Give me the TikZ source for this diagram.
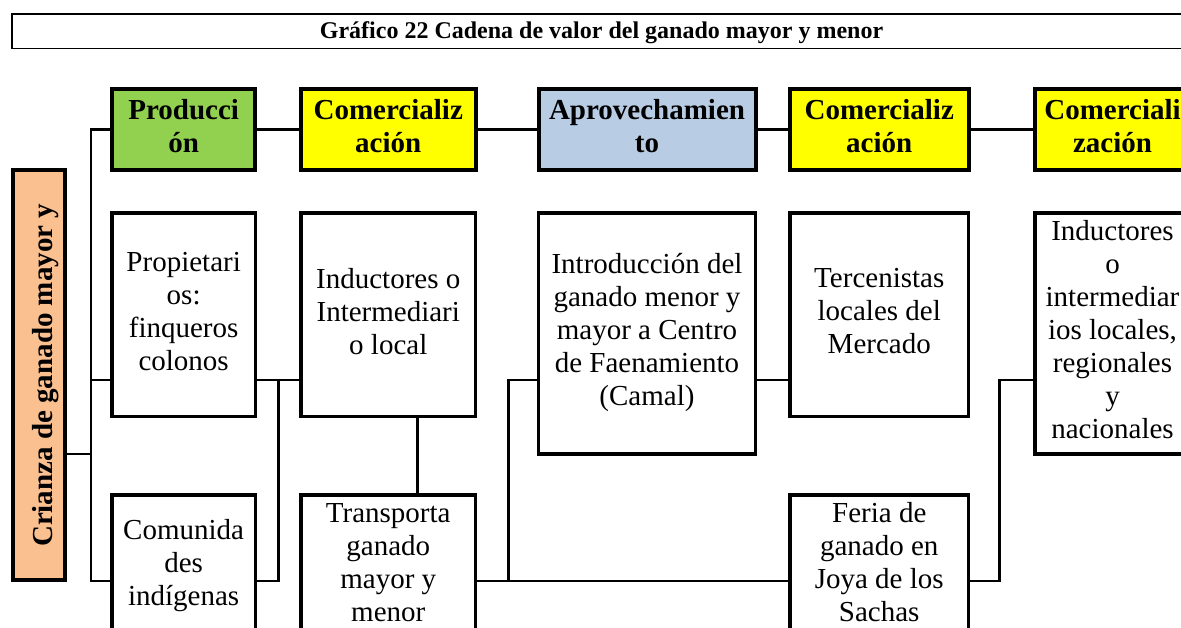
\documentclass[tikz,border=0pt]{standalone}
\usepackage{fontspec}
\setmainfont{Liberation Serif}
\definecolor{grn}{HTML}{92D050}
\definecolor{yel}{HTML}{FFFF00}
\definecolor{blu}{HTML}{B8CCE4}
\definecolor{ora}{HTML}{FAC090}
\newcommand\topstrut{\rule{0pt}{35.5pt}}
\newcommand\botstrut{\rule[-7.5pt]{0pt}{0pt}}
\begin{document}
\begin{tikzpicture}[x=1pt,y=-1pt,
  base/.style={draw=black, rectangle, inner sep=0pt, align=center,
    font=\fontsize{29}{33}\selectfont,
    execute at begin node=\topstrut, execute at end node=\botstrut},
  hdr/.style={base, line width=4pt, font=\fontsize{29}{33}\selectfont\bfseries,
    minimum height=81pt},
  bodybox/.style={base, line width=3.3pt, fill=white},
  rowa/.style={bodybox, minimum height=203.7pt},
  rowt/.style={bodybox, minimum height=241pt},
  rowb/.style={bodybox, minimum height=142pt},
  colA/.style={minimum width=143.3pt},
  colB/.style={minimum width=174.5pt},
  colC/.style={minimum width=217pt},
  colD/.style={minimum width=178.5pt},
  colE/.style={minimum width=155pt},
  conn/.style={line width=2.7pt},
]
\useasboundingbox (0,0) rectangle (1181,628);
\fill[white] (0,0) rectangle (1181,628);
\clip (0,0) rectangle (1181,628);

% title
\node[draw=black, line width=1.8pt, rectangle, inner sep=0pt,
  minimum width=1188pt, minimum height=34.5pt] (titlebox) at (606,31.25) {};
\node[anchor=base, inner sep=0pt, font=\fontsize{24}{28}\selectfont\bfseries]
  (titletext) at (601.5,38.3) {Gráfico 22 Cadena de valor del ganado mayor y menor};

% left vertical box
\node[base, line width=4pt, fill=ora, rotate=90, minimum width=410pt,
  minimum height=51.7pt, font=\fontsize{29}{33}\selectfont\bfseries,
  execute at begin node={}, execute at end node={}]
  (crianza) at (38.85,375.3) {\rule[-7.5pt]{0pt}{33pt}Crianza de ganado mayor y};

% header row
\node[hdr, colA, fill=grn] (p1) at (183.65,129.3) {Producci\\ón};
\node[hdr, colB, fill=yel] (c1) at (388.25,129.3) {Comercializ\\ación};
\node[hdr, colC, fill=blu] (ap) at (647,129.3) {Aprovechamien\\to};
\node[hdr, colD, fill=yel] (c2) at (879.25,129.3) {Comercializ\\ación};
\node[hdr, colE, fill=yel] (c3) at (1112.5,129.3) {Comerciali\\zación};

% body row 1
\node[rowa, colA] (prop) at (183.65,314.85) {Propietari\\os:\\finqueros\\colonos};
\node[rowa, colB] (ind) at (388.25,314.85) {Inductores o\\Intermediari\\o local};
\node[rowt, colC] (intro) at (647,333.5) {Introducción del\\ganado menor y\\mayor a Centro\\de Faenamiento\\(Camal)};
\node[rowa, colD] (ter) at (879.25,314.85) {Tercenistas\\locales del\\Mercado};
\node[rowt, colE] (ind2) at (1112.5,333.5) {Inductores\\o\\intermediar\\ios locales,\\regionales\\y\\nacionales};

% body row 2
\node[rowb, colA] (com) at (183.65,566) {Comunida\\des\\indígenas};
\node[rowb, colB] (tra) at (388.25,566) {Transporta\\ganado\\mayor y\\menor};
\node[rowb, colD] (fer) at (879.25,566) {Feria de\\ganado en\\Joya de los\\Sachas};

% helper coordinates
\coordinate (yA) at (0,380);
\coordinate (yB) at (0,581);
\coordinate (yM) at (0,454);
\coordinate (tr) at (91,0);
\coordinate (j1) at (278.3,0);
\coordinate (j2) at (417.3,0);
\coordinate (j3) at (508.3,0);
\coordinate (j4) at (999.3,0);

% connectors
\draw[conn] (crianza.south |- yM) -- (tr |- yM);
\draw[conn] (p1.west) -| (tr |- yB) -- (com.west |- yB);
\draw[conn] (prop.west |- yA) -- (tr |- yA);
\draw[conn] (p1.east) -- (c1.west);
\draw[conn] (c1.east) -- (ap.west);
\draw[conn] (ap.east) -- (c2.west);
\draw[conn] (c2.east) -- (c3.west);
\draw[conn] (prop.east |- yA) -- (ind.west |- yA);
\draw[conn] (j1 |- yA) -- (j1 |- yB) -- (com.east |- yB);
\draw[conn] (ind.south -| j2) -- (tra.north -| j2);
\draw[conn] (tra.east |- yB) -- (fer.west |- yB);
\draw[conn] (j3 |- yB) -- (j3 |- yA) -- (intro.west |- yA);
\draw[conn] (intro.east |- yA) -- (ter.west |- yA);
\draw[conn] (fer.east |- yB) -| (j4 |- yA) -- (ind2.west |- yA);
\end{tikzpicture}
\end{document}
